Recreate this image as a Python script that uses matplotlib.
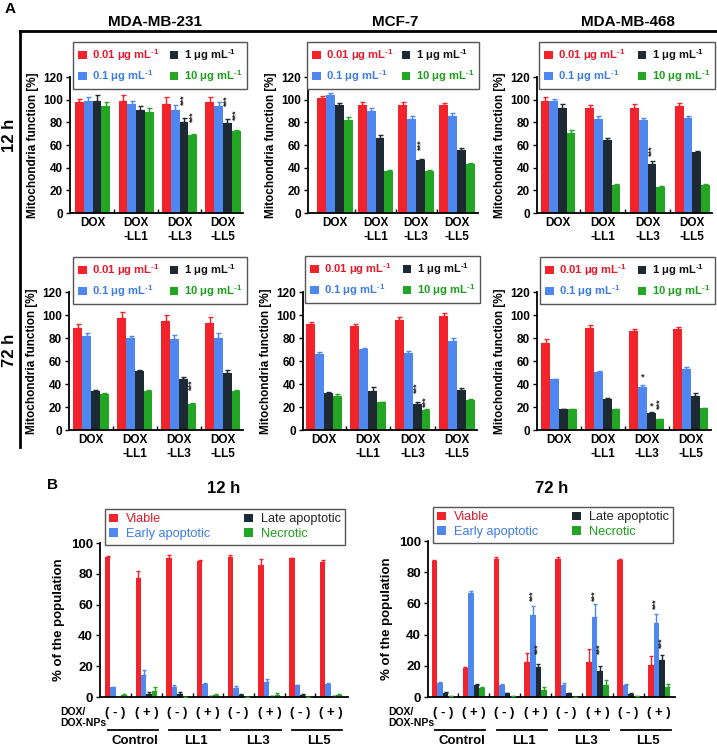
import matplotlib
matplotlib.use('Agg')
import matplotlib.pyplot as plt
from matplotlib.patches import Patch
from matplotlib.lines import Line2D
import numpy as np

plt.rcParams['font.family'] = ['Liberation Sans', 'DejaVu Sans']
plt.rcParams['mathtext.fontset'] = 'custom'
plt.rcParams['mathtext.rm'] = 'Liberation Sans:bold'
plt.rcParams['mathtext.bf'] = 'Liberation Sans:bold'
plt.rcParams['mathtext.it'] = 'Liberation Sans:italic'

# ---------------- DATA: panel A ----------------
cell_lines = ['MDA-MB-231', 'MCF-7', 'MDA-MB-468']
times_A = ['12 h', '72 h']
formulations = ['DOX', 'DOX\n-LL1', 'DOX\n-LL3', 'DOX\n-LL5']
conc_labels = [r'0.01 μg mL$^{\text{-1}}$', r'0.1 μg mL$^{\text{-1}}$',
               r'1 μg mL$^{\text{-1}}$', r'10 μg mL$^{\text{-1}}$']

# rows: formulation (DOX, LL1, LL3, LL5); cols: 0.01, 0.1, 1, 10 ug/mL
mda231_12h = [[98, 99, 99, 94], [99, 96, 91, 89], [96, 91, 80, 69], [98, 94, 79, 72]]
mda231_12h_err = [[3, 3, 5, 4], [5, 3, 3, 4], [6, 4, 4, 1], [4, 4, 4, 1.5]]
mcf7_12h = [[101.5, 104, 95, 82], [95, 90, 66, 37], [95, 83, 47, 37], [95, 86, 56, 43]]
mcf7_12h_err = [[2, 2, 2, 3], [3, 3, 3, 1], [3, 3, 1, 1], [2, 2, 1, 1]]
mda468_12h = [[99, 99, 93, 71], [93, 83, 64, 25], [93, 82, 43, 23], [94, 84, 54, 25]]
mda468_12h_err = [[3, 2, 3, 2], [2, 3, 2, 1], [3, 2, 3, 1], [3, 2, 1, 1]]

mda231_72h = [[89, 82, 34, 31], [97, 80, 51, 34], [95, 79, 44, 22.5], [93, 80, 50, 34]]
mda231_72h_err = [[3, 2, 1, 1], [6, 2, 1, 1], [5, 4, 2, 1], [5, 4, 2, 1]]
mcf7_72h = [[92, 66, 32, 30], [90.5, 70.5, 34, 24], [96, 67, 23, 17], [99, 77, 35, 26]]
mcf7_72h_err = [[1.5, 2, 1, 1], [1.5, 1, 3, 0.5], [2, 2, 1, 1], [3, 3, 1.5, 1]]
mda468_72h = [[76, 44, 18, 18], [89, 50.5, 27, 18], [86, 37.5, 15, 9.3], [88, 53, 29.8, 19]]
mda468_72h_err = [[3.5, 0.5, 0.5, 0.5], [2, 1, 1, 0.5], [2, 2, 1, 0.5], [2, 2, 2, 0.5]]

# significance marks: (formulation idx, concentration idx, y, text)
mda231_12h_stars = [(2, 2, 100, '***'), (2, 3, 85, '***'), (3, 2, 99, '***'), (3, 3, 87, '***')]
mcf7_12h_stars = [(2, 2, 60, '***')]
mda468_12h_stars = [(2, 2, 55, '***')]
mda231_72h_stars = [(2, 3, 39, '***')]
mcf7_72h_stars = [(2, 2, 37, '***'), (2, 3, 25, '***')]
mda468_72h_stars = [(2, 1, 46, '*'), (2, 2, 21, '*'), (2, 3, 23, '***')]

A_vals = [[mda231_12h, mcf7_12h, mda468_12h], [mda231_72h, mcf7_72h, mda468_72h]]
A_errs = [[mda231_12h_err, mcf7_12h_err, mda468_12h_err],
          [mda231_72h_err, mcf7_72h_err, mda468_72h_err]]
A_stars = [[mda231_12h_stars, mcf7_12h_stars, mda468_12h_stars],
           [mda231_72h_stars, mcf7_72h_stars, mda468_72h_stars]]
A_yticks = [0, 20, 40, 60, 80, 100, 120]

# ---------------- DATA: panel B ----------------
populations = ['Viable', 'Early apoptotic', 'Late apoptotic', 'Necrotic']
conditions = ['( - )', '( + )', '( - )', '( + )', '( - )', '( + )', '( - )', '( + )']
groups_B = ['Control', 'LL1', 'LL3', 'LL5']
times_B = ['12 h', '72 h']
# rows: condition; cols: viable, early, late, necrotic
b12 = [[91, 6.5, 0, 1.5], [77.5, 14, 2, 4], [90, 6.5, 2, 0], [88, 8.5, 0.4, 1.5],
       [91, 6, 1.5, 0], [86, 9.5, 0.5, 1.5], [90, 7.5, 1.5, 0], [87.5, 8.5, 0.5, 1.5]]
b12_err = [[0.5, 0.3, 0, 0.3], [4, 3.5, 1.5, 2.5], [2, 1.5, 1.5, 0], [1, 0.5, 0, 0.5],
           [1.5, 1, 0.3, 0], [3.5, 2.5, 0.3, 1], [0.5, 0.5, 0.3, 0], [1.5, 0.5, 0.3, 0.5]]
b72 = [[87, 9, 2.5, 0.5], [18.5, 66.5, 8, 5.5], [88.5, 7.5, 2.5, 0.5], [22.5, 52.5, 19, 4.5],
       [88.5, 7.5, 2.5, 0.2], [22.5, 51.5, 16.5, 8], [88, 8, 2, 0.5], [20.5, 47.5, 24, 6.5]]
b72_err = [[1, 0.5, 0.5, 0], [0.5, 1.5, 0.3, 1], [1, 1, 0.3, 0], [6, 6, 2, 2],
           [1, 1.5, 0.3, 0], [8.5, 8, 3.5, 3], [0.3, 0.3, 0.3, 0], [6, 6, 3, 2]]
b12_stars = []
b72_stars = [(3, 1, 65), (3, 2, 31), (5, 1, 65), (5, 2, 31), (7, 1, 60), (7, 2, 35)]
B_yticks = [0, 20, 40, 60, 80, 100]

# ---------------- STYLE ----------------
BAR_COLORS = ['#f2232b', '#4d87ef', '#1d2a33', '#23a624']
TXT_COLORS_A = ['#e8182a', '#3c7ce8', '#111111', '#1aa01a']
TXT_COLORS_B = ['#e8182a', '#3c7ce8', '#222222', '#1aa01a']

W, H = 717, 746
fig = plt.figure(figsize=(W / 100, H / 100), dpi=100)


def rect(l, t, r, b):
    return [l / W, 1 - b / H, (r - l) / W, (b - t) / H]


def draw_bars(ax, vals, errs, w, capsize=1.8):
    vals = np.asarray(vals, float)
    errs = np.asarray(errs, float)
    n = vals.shape[0]
    x0 = np.arange(n)
    for i in range(vals.shape[1]):
        x = x0 + (i - 1.5) * w
        ax.bar(x, vals[:, i], width=w, color=BAR_COLORS[i], edgecolor='none', zorder=2)
        ax.errorbar(x, vals[:, i], yerr=np.vstack([np.zeros(n), errs[:, i]]), fmt='none',
                    ecolor=BAR_COLORS[i], elinewidth=1.0, capsize=capsize, capthick=1.0, zorder=3)


def style_axes(ax, xlim, ylim, yticks, fs_tick):
    for s in ['top', 'right']:
        ax.spines[s].set_visible(False)
    for s in ['left', 'bottom']:
        ax.spines[s].set_linewidth(1.3)
    ax.set_xlim(*xlim)
    ax.set_ylim(*ylim)
    ax.set_yticks(yticks)
    ax.tick_params(axis='y', direction='out', length=3, width=1, labelsize=fs_tick, pad=2)
    ax.tick_params(axis='x', which='major', length=0)
    ax.set_xticks(np.arange(0.5, xlim[1] - 0.5, 1.0), minor=True)
    ax.tick_params(axis='x', which='minor', direction='in', length=3, width=1)
    for lab in ax.get_yticklabels():
        lab.set_fontweight('bold')


# ---------------- PANEL A ----------------
A_layout = [
    [(70, 243, -0.52, 3.46, 0.202), (308, 478, -0.66, 3.52, 0.218), (537, 712, -0.47, 3.44, 0.195)],
    [(69, 243, -0.50, 3.46, 0.200), (303, 477, -0.47, 3.45, 0.200), (537, 711, -0.50, 3.46, 0.200)],
]
A_rows_px = [(77, 213), (292, 430)]
A_leg_px = [
    [(73, 42, 247, 83), (307, 42, 479, 83), (539, 42, 715, 83)],
    [(73, 257, 247, 300), (305, 256, 480, 300), (540, 257, 715, 300)],
]

handles_A = [Patch(facecolor=c, edgecolor='none') for c in BAR_COLORS]

for r in range(2):
    t, b = A_rows_px[r]
    for c in range(3):
        l, rr, xmin, xmax, w = A_layout[r][c]
        ax = fig.add_axes(rect(l, t, rr, b))
        draw_bars(ax, A_vals[r][c], A_errs[r][c], w)
        style_axes(ax, (xmin, xmax), (0, 120), A_yticks, 8.5)
        ax.set_xticks(range(len(formulations)))
        ax.set_xticklabels(formulations, fontsize=8.5, fontweight='bold', linespacing=1.15)
        ax.tick_params(axis='x', which='major', pad=3)
        ax.set_ylabel('Mitochondria function [%]', fontsize=8.5, fontweight='bold', labelpad=3)
        for (fi, ci, y, txt) in A_stars[r][c]:
            ax.text(fi + (ci - 1.5) * w, y, txt, rotation=90 if len(txt) > 1 else 0,
                    ha='center', va='center', fontsize=6.5, fontweight='bold', color='#222222',
                    zorder=4)
        ll, lt, lr, lb = A_leg_px[r][c]
        leg = ax.legend(handles_A, conc_labels, loc='upper left',
                        bbox_to_anchor=(ll / W, 1 - lb / H, (lr - ll) / W, (lb - lt) / H),
                        bbox_transform=fig.transFigure, mode='expand', ncol=2,
                        borderaxespad=0, prop={'weight': 'bold', 'size': 8.1},
                        labelcolor=TXT_COLORS_A, handlelength=0.75, handleheight=0.75,
                        handletextpad=0.5, columnspacing=0.3, labelspacing=0.45,
                        borderpad=0.45, fancybox=False, framealpha=1, edgecolor='#555555')
        leg.get_frame().set_linewidth(1.0)
        leg.set_zorder(10)

# column titles, row labels, frame
title_x = [155, 395, 628]
for c in range(3):
    fig.text(title_x[c] / W, 1 - 22 / H, cell_lines[c], ha='center', va='center',
             fontsize=11, fontweight='bold')
row_y = [135, 350]
for r in range(2):
    fig.text(10 / W, 1 - row_y[r] / H, times_A[r], ha='center', va='center', rotation=90,
             fontsize=12, fontweight='bold')
fig.text(10 / W, 1 - 9 / H, 'A', ha='center', va='center', fontsize=11, fontweight='bold')
fig.add_artist(Line2D([20 / W, 1.0], [1 - 31 / H, 1 - 31 / H], transform=fig.transFigure,
                      color='black', lw=2))
fig.add_artist(Line2D([20 / W, 20 / W], [1 - 31 / H, 1 - 447 / H], transform=fig.transFigure,
                      color='black', lw=2))

# ---------------- PANEL B ----------------
fig.text(53 / W, 1 - 485 / H, 'B', ha='center', va='center', fontsize=11, fontweight='bold')

B_layout = [(100, 543, 348, 697, -0.51, 7.56, 0.177), (428, 541, 675, 697, -0.48, 7.51, 0.18)]
B_leg_px = [(105, 509, 345, 544), (433, 507, 673, 544)]
B_dox_x = [60, 388]
B_vals = [b12, b72]
B_errs = [b12_err, b72_err]
B_stars = [b12_stars, b72_stars]
handles_B = [Patch(facecolor=c, edgecolor='none') for c in BAR_COLORS]

for k in range(2):
    l, t, rr, b, xmin, xmax, w = B_layout[k]
    ax = fig.add_axes(rect(l, t, rr, b))
    draw_bars(ax, B_vals[k], B_errs[k], w, capsize=1.6)
    style_axes(ax, (xmin, xmax), (0, 100), B_yticks, 9.5)
    ax.set_xticks(range(len(conditions)))
    ax.set_xticklabels(conditions, fontsize=9.5, fontweight='bold')
    ax.tick_params(axis='x', which='major', pad=7)
    ax.set_ylabel('% of the population', fontsize=9.5, fontweight='bold', labelpad=4)
    ax.set_title(times_B[k], fontsize=12, fontweight='bold',
                 y=(b - 497) / (b - t), va='center')
    for (gi, pi, y) in B_stars[k]:
        ax.text(gi + (pi - 1.5) * w, y, '***', rotation=90, ha='center', va='center',
                fontsize=6.5, fontweight='bold', color='#222222', zorder=4)
    hpx = b - t
    yline = (b - 730) / hpx
    ylab = (b - 741) / hpx
    for gi, name in enumerate(groups_B):
        ax.plot([2 * gi - 0.25, 2 * gi + 1.38], [yline, yline], color='black', lw=1.3,
                transform=ax.get_xaxis_transform(), clip_on=False)
        ax.text(2 * gi + 0.62, ylab, name, transform=ax.get_xaxis_transform(),
                ha='center', va='center', fontsize=9.5, fontweight='bold')
    fig.text(B_dox_x[k] / W, 1 - 707 / H, 'DOX/\nDOX-NPs', ha='left', va='top',
             fontsize=7.5, fontweight='bold', linespacing=1.15)
    ll, lt, lr, lb = B_leg_px[k]
    leg = ax.legend(handles_B, populations, loc='upper left',
                    bbox_to_anchor=(ll / W, 1 - lb / H, (lr - ll) / W, (lb - lt) / H),
                    bbox_transform=fig.transFigure, mode='expand', ncol=2,
                    borderaxespad=0, prop={'size': 9.2},
                    labelcolor=TXT_COLORS_B, handlelength=0.7, handleheight=0.7,
                    handletextpad=0.6, columnspacing=0.6, labelspacing=0.2,
                    borderpad=0.35, fancybox=False, framealpha=1, edgecolor='#555555')
    leg.get_frame().set_linewidth(1.0)
    leg.set_zorder(10)

fig.savefig('out.png', dpi=100)
